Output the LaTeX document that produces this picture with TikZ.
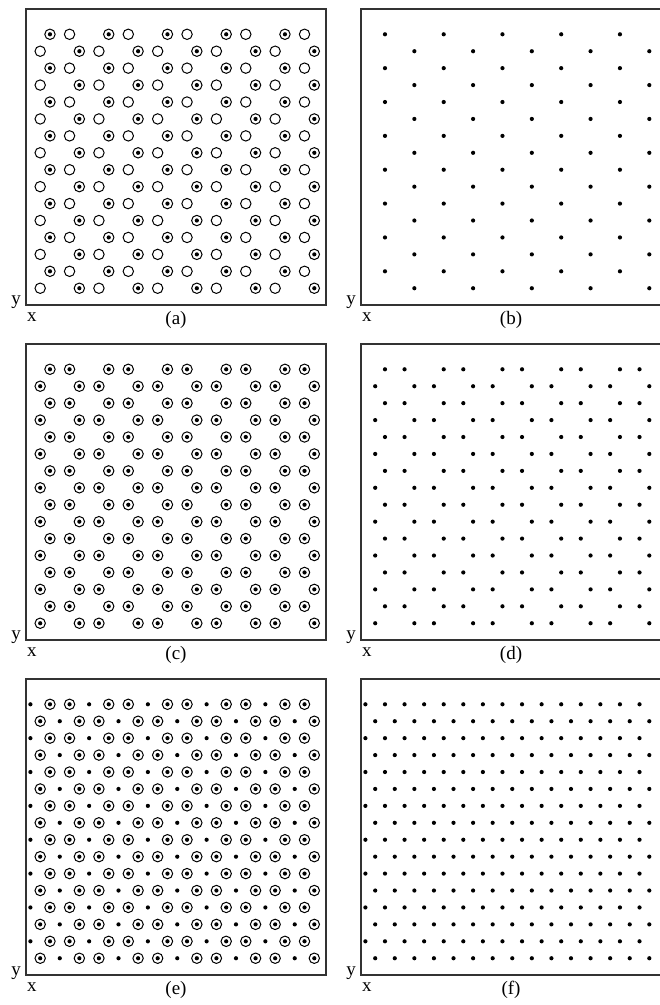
\documentclass[tikz,border=0pt]{standalone}
\usepackage{fontspec}
\setmainfont{Liberation Serif}
\tikzset{
  panelbox/.style={draw=black!80,line width=1.1pt},
  site/.style={line width=1pt},
  lbl/.style={font=\fontsize{19}{22}\selectfont,inner sep=0pt}
}

\begin{document}
\begin{tikzpicture}[x=1pt,y=1pt]
  \useasboundingbox (0,0) rectangle (660,1005);
  % panels: corner / caption / look of sites A, B, C (0 none, 1 dot, 2 ring, 3 ring+dot)
  \foreach \px/\py/\lab/\la/\lb/\lc in {26/700/a/3/2/0,361/700/b/1/0/0,26/365/c/3/3/0,
      361/365/d/1/1/0,26/30/e/3/3/1,361/30/f/1/1/1}{
    \begin{scope}[shift={(\px,\py)}]
      \draw[panelbox] (0,0) rectangle (300,296);
      \node[lbl,anchor=base east] (y-\lab) at (-5,0) {y};
      \node[lbl,anchor=base west] (x-\lab) at (1,-17) {x};
      \node[lbl,anchor=base] (cap-\lab) at (150,-20) {(\lab)};
      % triangular grid, 16 rows of 15 sites
      \foreach \i in {0,...,15}{
        \foreach \j in {0,...,14}{
          \pgfmathtruncatemacro\kind{mod(\j+2*mod(\i+1,2),3)}
          \ifcase\kind \let\look\lc \or \let\look\la \or \let\look\lb \fi
          \pgfmathsetmacro\sx{4.4+9.79*mod(\i+1,2)+19.58*\j}
          \pgfmathsetmacro\sy{16.75+16.93*\i}
          \ifnum\look>1 \draw[site] (\sx,\sy) circle (5.2);\fi
          \ifodd\look \fill (\sx,\sy) circle (2.1);\fi
        }
      }
    \end{scope}
  }
\end{tikzpicture}
\end{document}
